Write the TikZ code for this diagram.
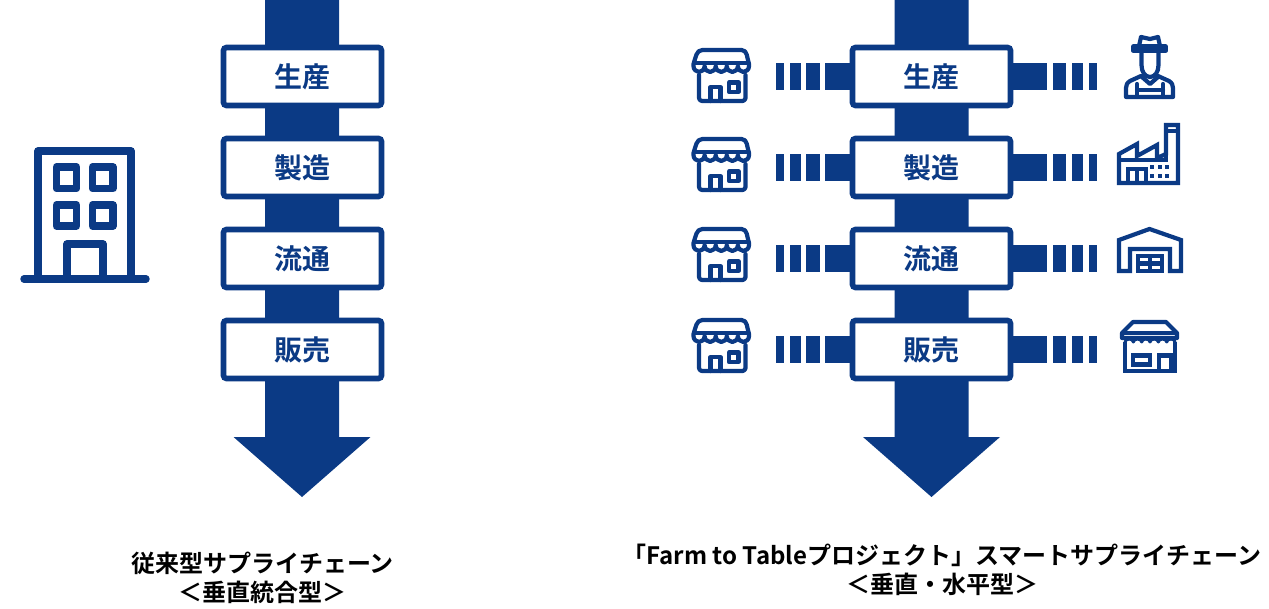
\documentclass[tikz,border=0pt]{standalone}
\usepackage{fontspec}
\newfontfamily\jpb{Noto Sans CJK JP Bold}
\definecolor{navy}{HTML}{0B3A85}
\tikzset{
  stagebox/.style={draw=navy,line width=5.6pt,fill=white,rounded corners=3pt,minimum width=158pt,minimum height=58pt,inner sep=0pt,text=navy,font=\jpb\fontsize{28}{28}\selectfont},
  flow/.style={fill=navy,draw=none},
  stub/.style={draw=navy,line width=27pt},
  icon/.style={draw=navy,line width=4.2pt,line join=miter,fill=none},
  round icon/.style={draw=navy,line width=4.2pt,line join=round,line cap=round,fill=none},
  thick icon/.style={draw=navy,line width=7.4pt,line join=round,line cap=round,fill=none},
  caption/.style={align=center,text=black,inner sep=0pt,font=\jpb\fontsize{24}{24}\selectfont},
  shop/.pic={
    \draw[round icon] (5.5,27)--(5.5,50) arc[start angle=180,end angle=90,radius=3] --(49,53) arc[start angle=90,end angle=0,radius=3] --(52,27);
    \draw[round icon] (17,53)--(17,39)--(27,39)--(27,53);
    \draw[round icon] (35.5,34.5) rectangle (45,44);
    \draw[round icon] (9,2)--(48,2) to[out=0,in=110] (55.5,16)--(55.5,18)
      arc[start angle=0,end angle=180,x radius=5.55,y radius=6]
      arc[start angle=0,end angle=180,x radius=5.55,y radius=6]
      arc[start angle=0,end angle=180,x radius=5.55,y radius=6]
      arc[start angle=0,end angle=180,x radius=5.55,y radius=6]
      arc[start angle=0,end angle=180,x radius=5.55,y radius=6]
      --(0,16) to[out=70,in=180] (9,2)--cycle;
    \draw[round icon] (1,15)--(55,15);
  }
}
\begin{document}
\begin{tikzpicture}[x=1pt,y=-1pt]
\useasboundingbox (0,0) rectangle (1269,609);
% vertical flows
\foreach \n/\cx in {lflow/302,rflow/931.5}{
  \fill[flow] (\cx-37,0)--(\cx+37,0)--(\cx+37,437)--(\cx+68.5,437)--(\cx,497)--(\cx-68.5,437)--(\cx-37,437)--cycle;
}
% boxes
\foreach \i/\y/\t/\s in {1/76.5/生産/48,2/167.5/製造/137,3/258.5/流通/227,4/349.5/販売/318}{
  \node[stagebox] (l\i) at (302.5,\y) {\t};
  \node[stagebox] (r\i) at (931.5,\y) {\t};
  \coordinate (ls\i) at (825,\y);
  \coordinate (rs\i) at (1047,\y);
  \draw[stub] (ls\i) -- (r\i.west);
  \draw[stub] (r\i.east) -- (rs\i);
  \fill[flow] (776,\y-13.5) rectangle (784,\y+13.5);
  \fill[flow] (790,\y-13.5) rectangle (801,\y+13.5);
  \fill[flow] (806,\y-13.5) rectangle (820,\y+13.5);
  \fill[flow] (1053,\y-13.5) rectangle (1066,\y+13.5);
  \fill[flow] (1072,\y-13.5) rectangle (1083,\y+13.5);
  \fill[flow] (1089,\y-13.5) rectangle (1097,\y+13.5);
  \pic at (693.5,\s) {shop};
}
% building
\draw[thick icon] (38,279)--(38,151)--(131,151)--(131,279);
\draw[thick icon] (24,279)--(146,279);
\draw[thick icon] (56.5,167) rectangle (76.5,188.5);
\draw[thick icon] (92.5,167) rectangle (113,188.5);
\draw[thick icon] (56.5,205) rectangle (76.5,226);
\draw[thick icon] (92.5,205) rectangle (113,226);
\draw[thick icon] (67,279)--(67,244)--(103,244)--(103,279);
% farmer
\draw[round icon] (1133.5,46.5) rectangle (1165.5,51);
\draw[round icon] (1139,46)--(1141,37)--(1150,39)--(1158,37)--(1160,46);
\draw[round icon] (1141.5,52)--(1141.5,65) .. controls (1141.5,72) and (1145,77) .. (1150,77) .. controls (1155,77) and (1158.5,72) .. (1158.5,65)--(1158.5,52);
\draw[round icon] (1141,76)--(1130,81) .. controls (1127,83) and (1126,85) .. (1126,88)--(1126,97)--(1173,97)--(1173,88) .. controls (1173,85) and (1172,83) .. (1169,81)--(1158,76);
\draw[round icon] (1142,77)--(1150,84)--(1158,77);
\draw[round icon] (1137,84)--(1137,97) (1163,84)--(1163,97) (1137,90)--(1163,90);
% factory
\draw[icon] (1119,183)--(1119,154)--(1137,144)--(1137,156)--(1157,145)--(1157,158)--(1166,154)--(1166,125)--(1178,125)--(1178,183)--cycle;
\draw[icon] (1166,131)--(1178,131);
\draw[icon] (1166,154)--(1166,160)--(1119,160);
\draw[icon] (1128,183)--(1128,169)--(1146,169)--(1146,183) (1137,169)--(1137,183);
\foreach \x in {1150,1157.5,1165}{
  \fill[flow] (\x,165.5) rectangle ++(4,4);
  \fill[flow] (\x,174) rectangle ++(4,4);
}
% warehouse
\draw[icon] (1119,271)--(1119,240)--(1149.5,229)--(1181,240)--(1181,271)--(1170,271)--(1170,249)--(1130,249)--(1130,271)--cycle;
\draw[icon] (1138,271)--(1138,256)--(1162,256)--(1162,271)--cycle;
\draw[icon] (1138,263.5)--(1162,263.5) (1150,256)--(1150,271);
% last store
\draw[icon] (1125,342)--(1125,371)--(1175,371)--(1175,342);
\draw[round icon] (1133,322)--(1166,322)--(1177,333)--(1177,338)--(1122,338)--(1122,333)--cycle;
\draw[icon] (1122,333)--(1177,333);
\draw[icon] (1133,355.5) rectangle (1150,364.5);
\draw[icon] (1159,371)--(1159,355.5)--(1171,355.5)--(1171,371);
\draw[round icon,line width=3pt] (1125,342) arc[start angle=180,end angle=0,x radius=4.17,y radius=-3]
  arc[start angle=180,end angle=0,x radius=4.17,y radius=-3]
  arc[start angle=180,end angle=0,x radius=4.17,y radius=-3]
  arc[start angle=180,end angle=0,x radius=4.17,y radius=-3]
  arc[start angle=180,end angle=0,x radius=4.17,y radius=-3]
  arc[start angle=180,end angle=0,x radius=4.17,y radius=-3];
% captions
\node[caption] (c1) at (262.5,563) {従来型サプライチェーン};
\node[caption] (c2) at (262.5,592) {＜垂直統合型＞};
\node[caption] (c3) at (942,555.5) {「Farm to Tableプロジェクト」スマートサプライチェーン};
\node[caption] (c4) at (942,584) {＜垂直・水平型＞};
\end{tikzpicture}
\end{document}
